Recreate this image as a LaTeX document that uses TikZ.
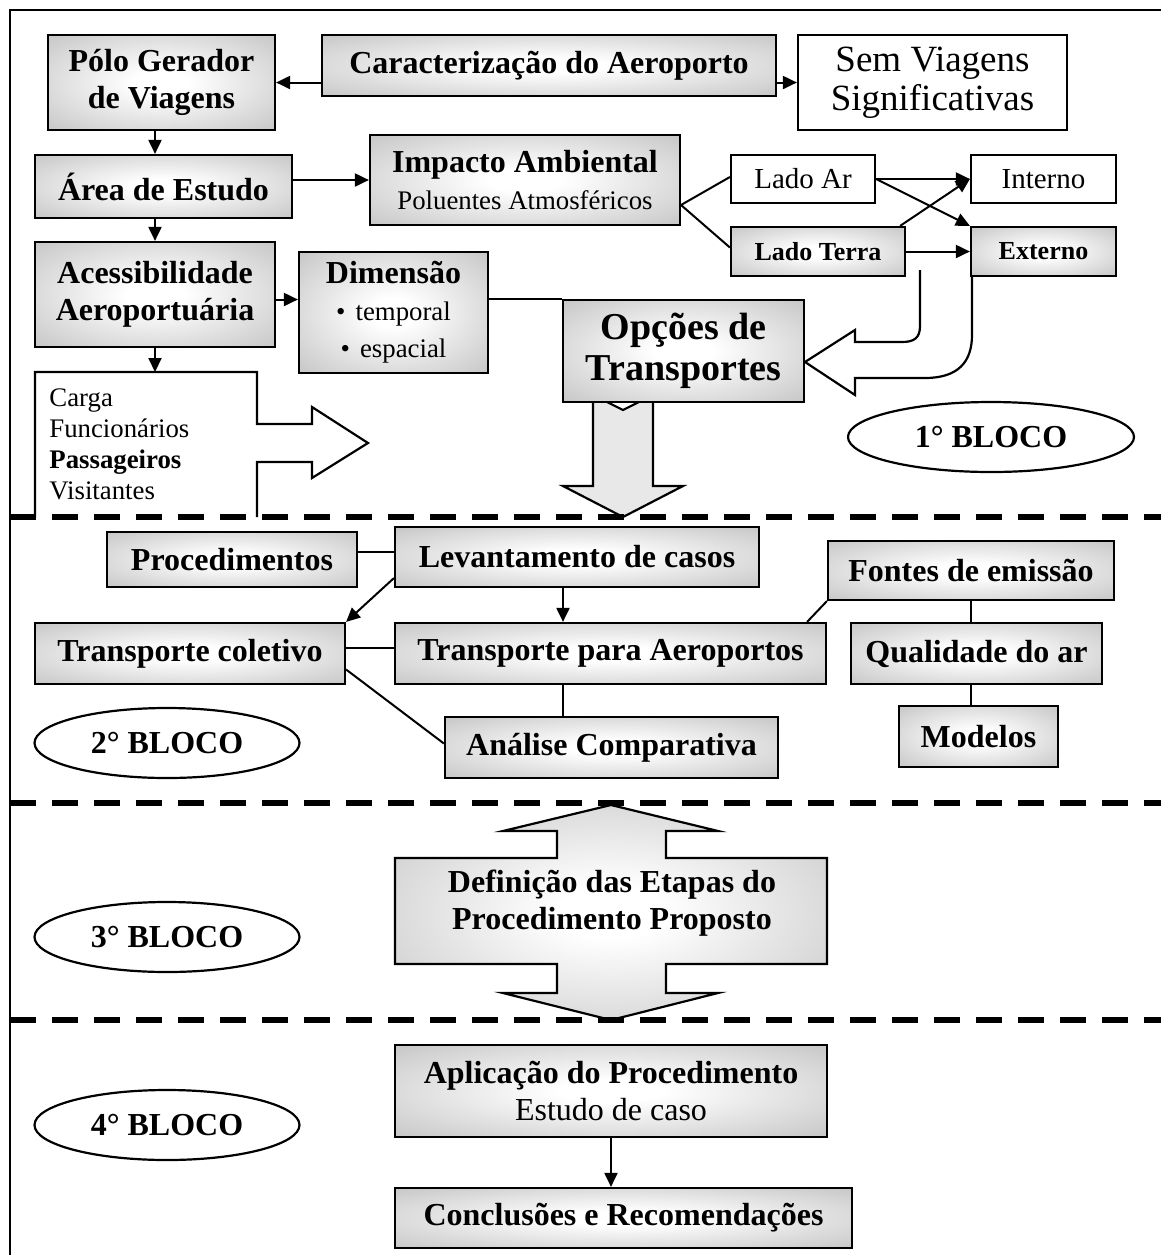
\documentclass[tikz,border=0pt]{standalone}
\usepackage{fontspec}
\setmainfont{Liberation Serif}
\usetikzlibrary{arrows.meta,shapes.geometric,calc}
\pgfdeclareradialshading{boxshade}{\pgfpoint{0bp}{0bp}}{color(0bp)=(white); color(6bp)=(white); color(46bp)=(black!30); color(72bp)=(black!36)}
\newcommand\bigf{\fontsize{16}{18.5}\selectfont\bfseries}
\newcommand\regf{\fontsize{16}{18.5}\selectfont\mdseries}
\newcommand\semf{\fontsize{18.5}{19.5}\selectfont\mdseries}
\newcommand\smallf{\fontsize{13.4}{15.5}\selectfont\mdseries}
\newcommand\midf{\fontsize{14.5}{17}\selectfont\mdseries}
\newcommand\smbf{\fontsize{13}{15}\selectfont\bfseries}
\newcommand\opf{\fontsize{19}{20.5}\selectfont\bfseries}
\newcommand\bx[7]{%
 \pgfmathsetmacro\bxcx{(#3+#5)/2}%
 \pgfmathsetmacro\bxcy{(#4+#6)/2}%
 \pgfmathsetmacro\bxw{(#5-#3)*0.5}%
 \pgfmathsetmacro\bxh{(#6-#4)*0.5}%
 \node[#1, minimum width=\bxw pt, minimum height=\bxh pt] (#2) at (\bxcx,\bxcy) {#7};}
\begin{document}
\begin{tikzpicture}[x=0.5pt,y=-0.5pt,
  gbox/.style={draw=black, line width=1.1pt, shade, shading=boxshade, inner sep=0pt, align=center, font=\bigf},
  wbox/.style={draw=black, line width=1.1pt, fill=white, inner sep=0pt, align=center},
  arr/.style={line width=1pt, -{Triangle[length=7pt,width=6.5pt]}},
  ln/.style={line width=1pt},
  shp/.style={line width=1.1pt},
  dline/.style={line width=2.6pt, dash pattern=on 13pt off 8pt},
  ell/.style={draw, ellipse, line width=1.1pt, fill=white, inner sep=0pt, font=\bigf}]
\useasboundingbox (0,0) rectangle (1161,1255);
% frame
\draw[shp] (10,1255) -- (10,10) -- (1161,10);

% ---------- block 1 ----------
% curved block arrow to Opcoes
\draw[shp, fill=white] (920,270) -- (920,326) .. controls (920,338) and (914,342) .. (902,342) -- (855,342) -- (855,330) -- (805,362) -- (855,395) -- (855,378) -- (925,378) .. controls (958,378) and (972,362) .. (972,335) -- (972,270);
% down arrow from Opcoes
\draw[shp, fill=black!9] (593,395) -- (623,410) -- (653,395) -- (653,486) -- (683,486) -- (623,517) -- (563,486) -- (593,486) -- cycle;
% Carga shape
\draw[shp, fill=white] (35,517) -- (35,372) -- (257,372) -- (257,424) -- (312,424) -- (312,407) -- (368,443) -- (312,478) -- (312,462) -- (257,462) -- (257,517);

\bx{gbox}{polo}{48}{35}{275}{130}{Pólo Gerador\\de Viagens}
\bx{gbox}{car}{322}{35}{776}{96}{Caracterização do Aeroporto}
\bx{wbox,font=\semf}{sem}{798}{35}{1067}{130}{Sem Viagens\\Significativas}
\bx{gbox}{area}{35}{155}{292}{218}{Área de Estudo}
\bx{gbox}{imp}{370}{135}{680}{225}{Impacto Ambiental\\{\smallf Poluentes Atmosféricos}}
\bx{wbox,font=\midf}{ladoar}{731}{155}{875}{203}{Lado Ar}
\bx{gbox,font=\smbf}{ladot}{731}{227}{905}{276}{Lado Terra}
\bx{wbox,font=\midf}{interno}{971}{155}{1116}{203}{Interno}
\bx{gbox,font=\smbf}{externo}{971}{227}{1116}{276}{Externo}
\bx{gbox}{acess}{35}{242}{275}{347}{Acessibilidade\\Aeroportuária}
\bx{gbox}{dim}{299}{252}{488}{373}{Dimensão\\{\smallf •\hspace{5pt}temporal}\\{\smallf •\hspace{5pt}espacial}}
\bx{gbox,font=\opf}{opc}{563}{300}{804}{402}{Opções de\\Transportes}
\node[anchor=north west, align=left, font=\smallf, inner sep=0pt] (cargatxt) at (49,388) {Carga\\Funcionários\\\textbf{Passageiros}\\Visitantes};
\node[ell, minimum width=143pt, minimum height=35pt] (b1) at (991,437) {1° BLOCO};

\draw[arr] (car.west |- polo.east) -- (polo.east);
\draw[arr] (car.east |- sem.west) -- (sem.west);
\draw[arr] (polo.south -| acess.north) -- (area.north -| acess.north);
\draw[arr] (area.east |- imp.west) -- (imp.west);
\draw[arr] (area.south -| acess.north) -- (acess.north);
\coordinate (impj) at (681,205);
\draw[ln] ([yshift=1pt]ladoar.west) -- (impj) -- ([yshift=2pt]ladot.west);
\draw[arr] (ladoar.east) -- (interno.west);
\draw[arr] (ladoar.east) -- (externo.north west);
\draw[arr] ([xshift=-3pt]ladot.north east) -- (interno.west);
\draw[arr] (ladot.east) -- (externo.west);
\coordinate (ad) at ([yshift=-2.5pt]acess.east);
\draw[arr] (ad) -- (ad -| dim.west);
\draw[ln] (dim.east |- opc.north) -- (opc.north west);
\coordinate (cargatop) at (155,372);
\draw[arr] (acess.south) -- (cargatop);

% ---------- block 2 ----------
\bx{gbox}{proc}{107}{532}{357}{587}{Procedimentos}
\bx{gbox}{lev}{395}{527}{759}{587}{Levantamento de casos}
\bx{gbox}{fontes}{828}{541}{1114}{600}{Fontes de emissão}
\bx{gbox}{tc}{35}{623}{345}{684}{Transporte coletivo}
\bx{gbox}{tpa}{395}{623}{826}{684}{Transporte para Aeroportos}
\bx{gbox}{qual}{851}{623}{1102}{684}{Qualidade do ar}
\bx{gbox}{an}{445}{717}{778}{778}{Análise Comparativa}
\bx{gbox}{mod}{899}{706}{1058}{767}{Modelos}
\node[ell, minimum width=132.5pt, minimum height=35pt] (b2) at (167,743) {2° BLOCO};

\draw[ln] ([yshift=4pt]proc.east) -- ([yshift=4pt]proc.east -| lev.west);
\draw[arr] ([yshift=5pt]lev.south west) -- (tc.north east);
\coordinate (lv) at ([xshift=-7pt]lev.south);
\draw[arr] (lv) -- (lv |- tpa.north);
\draw[ln] ([yshift=3pt]tc.east) -- ([yshift=3pt]tc.east -| tpa.west);
\draw[ln] ([yshift=-8pt]tc.east) -- ([yshift=2pt]an.west);
\draw[ln] (lv |- tpa.south) -- (lv |- an.north);
\draw[ln] (fontes.south west) -- ([xshift=-10pt]tpa.north east);
\draw[ln] (fontes.south) -- (fontes.south |- qual.north);
\draw[ln] (fontes.south |- qual.south) -- (fontes.south |- mod.north);

% ---------- block 3 ----------
\draw[shp, shade, shading=boxshade] (611,805) -- (718,831) -- (666,831) -- (666,858) -- (827,858) -- (827,964) -- (666,964) -- (666,993) -- (718,993) -- (611,1020) -- (503,993) -- (557,993) -- (557,964) -- (395,964) -- (395,858) -- (557,858) -- (557,831) -- (503,831) -- cycle;
\node[align=center, font=\bigf, inner sep=0pt] (def) at (612,903) {Definição das Etapas do\\Procedimento Proposto};
\node[ell, minimum width=132.5pt, minimum height=35pt] (b3) at (167,937) {3° BLOCO};

% ---------- block 4 ----------
\bx{gbox}{apl}{395}{1045}{827}{1137}{Aplicação do Procedimento\\{\regf Estudo de caso}}
\bx{gbox}{concl}{395}{1188}{852}{1248}{Conclusões e Recomendações}
\node[ell, minimum width=132.5pt, minimum height=35pt] (b4) at (167,1125) {4° BLOCO};
\draw[arr] (apl.south) -- (apl.south |- concl.north);

% dashed separators
\draw[dline] (10,517) -- (1161,517);
\draw[dline] (10,803) -- (1161,803);
\draw[dline] (10,1020) -- (1161,1020);
\end{tikzpicture}
\end{document}
